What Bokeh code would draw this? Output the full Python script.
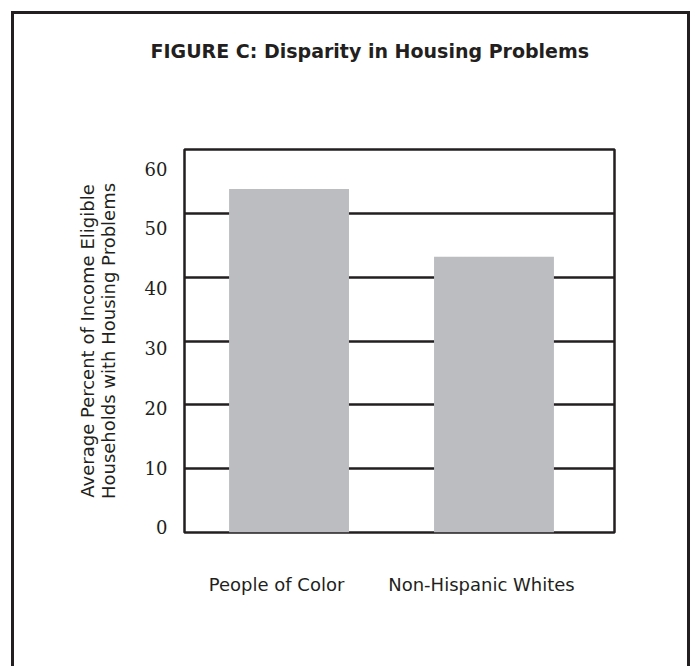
from bokeh.plotting import figure
from bokeh.models import Range1d, FixedTicker, Title, ColumnDataSource, LinearAxis
from bokeh.transform import dodge
from bokeh.embed import file_html
from bokeh.resources import INLINE

categories = ["People of Color", "Non-Hispanic Whites"]
values = [53.8, 43.2]
y_ticks = [0, 10, 20, 30, 40, 50, 60]

idx = list(range(len(categories)))
source = ColumnDataSource(dict(idx=idx, cat=categories, val=values))

INK = "#231f20"

p = figure(width=679, height=655, output_backend="svg", toolbar_location=None,
           x_range=Range1d(-0.449, 1.649),
           y_range=Range1d(0, 60),
           min_border_left=170, min_border_right=79, min_border_top=135, min_border_bottom=137,
           y_axis_location=None)
p.margin = (11, 0, 0, 11)
p.styles = {"border-left": "3px solid " + INK, "border-top": "3px solid " + INK,
            "border-right": "3px solid " + INK}

p.title.text = ""
# spacer panel between the frame and the title
p.add_layout(Title(text=" ", text_font_size="1px", standoff=63), "above")
p.add_layout(Title(text="FIGURE C: Disparity in Housing Problems", align="left", offset=-34,
                   text_font="DejaVu Sans", text_font_size="19px", text_font_style="bold",
                   text_color=INK, standoff=43), "above")

p.vbar(x=dodge("idx", 0.061), top="val", width=0.585, source=source,
       fill_color="#bcbdc0", line_color=None)

p.outline_line_color = INK
p.outline_line_width = 2.5
p.outline_line_alpha = 1

p.xgrid.grid_line_color = None
p.ygrid.grid_line_color = INK
p.ygrid.grid_line_width = 2.5
p.ygrid.grid_line_alpha = 1
p.ygrid.ticker = FixedTicker(ticks=y_ticks)

# tick labels sit on their own (slightly compressed) scale, as in the reference
p.extra_y_ranges = {"labels": Range1d(-0.836, 63.18)}
yaxis = LinearAxis(y_range_name="labels", ticker=FixedTicker(ticks=y_ticks))
yaxis.axis_line_color = None
yaxis.major_tick_line_color = None
yaxis.minor_tick_line_color = None
yaxis.major_label_text_font = "DejaVu Serif"
yaxis.major_label_text_font_size = "18px"
yaxis.major_label_text_color = INK
yaxis.major_label_standoff = 11
yaxis.axis_label = "Average Percent of Income Eligible\nHouseholds with Housing Problems"
yaxis.axis_label_text_font = "DejaVu Sans"
yaxis.axis_label_text_font_style = "normal"
yaxis.axis_label_text_font_size = "18px"
yaxis.axis_label_text_line_height = 1.0
yaxis.axis_label_text_color = INK
yaxis.axis_label_standoff = 23
p.add_layout(yaxis, "left")

p.xaxis.ticker = FixedTicker(ticks=idx)
p.xaxis.major_label_overrides = {i: c for i, c in zip(idx, categories)}
p.xaxis.axis_line_color = None
p.xaxis.major_tick_line_color = None
p.xaxis.minor_tick_line_color = None
p.xaxis.major_label_text_font = "DejaVu Sans"
p.xaxis.major_label_text_font_size = "18px"
p.xaxis.major_label_text_color = INK
p.xaxis.major_label_standoff = 35

open("out.html", "w").write(file_html(p, INLINE))
